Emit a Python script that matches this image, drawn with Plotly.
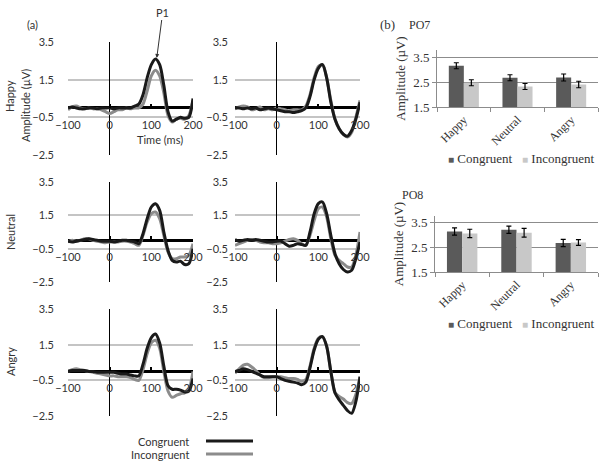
import plotly.graph_objects as go

W, H = 601, 465

# ERP waveforms, sampled every 10 ms from -100 to 200 ms (amplitudes in µV)
times = list(range(-100, 201, 10))

happy_left_cong = [0.0, 0.05, 0.0, -0.05, -0.05, 0.0, 0.0, -0.05, 0.0, 0.0, 0.0, -0.05, 0.0, 0.0, 0.0, 0.0,
                   0.1, 0.2, 0.7, 1.6, 2.3, 2.6, 2.3, 1.2, -0.2, -0.7, -0.6, -0.5, -0.55, -0.5, 0.5]
happy_left_incong = [-0.1, 0.05, 0.1, 0.0, -0.05, 0.0, -0.05, -0.05, -0.1, -0.2, -0.3, -0.2, -0.1, -0.1, 0.0, -0.05,
                     0.0, 0.0, 0.2, 0.9, 1.7, 2.0, 1.7, 0.8, -0.4, -0.75, -0.6, -0.55, -0.6, -0.4, 0.4]
happy_right_cong = [0.0, 0.0, -0.05, 0.0, -0.05, 0.0, -0.1, -0.05, 0.0, -0.05, -0.1, -0.15, -0.2, -0.2, -0.25, -0.2,
                    -0.15, 0.0, 0.6, 1.5, 2.1, 2.3, 1.6, 0.3, -0.6, -1.1, -1.4, -1.5, -1.2, -0.6, 0.3]
happy_right_incong = [-0.05, 0.05, 0.1, 0.05, -0.1, -0.05, 0.05, -0.1, -0.05, -0.1, 0.0, -0.05, -0.1, -0.15, -0.1, -0.1,
                      -0.1, 0.1, 0.7, 1.6, 2.2, 2.3, 1.6, 0.4, -0.6, -1.1, -1.4, -1.55, -1.3, -0.5, 0.4]
neutral_left_cong = [-0.05, -0.1, -0.05, 0.0, 0.05, 0.1, 0.05, 0.0, -0.05, -0.05, -0.05, -0.1, -0.05, 0.0, 0.0, -0.05,
                     -0.1, -0.2, 0.4, 1.3, 2.0, 2.2, 1.8, 0.5, -0.6, -1.2, -1.3, -1.25, -1.45, -1.4, -0.5]
neutral_left_incong = [-0.1, 0.0, -0.05, 0.0, 0.1, 0.1, 0.0, -0.05, -0.1, -0.15, -0.1, -0.1, -0.1, -0.05, -0.05, -0.1,
                       -0.2, -0.3, 0.3, 1.1, 1.6, 1.7, 1.3, 0.3, -0.7, -1.1, -1.1, -1.0, -1.0, -0.9, -0.2]
neutral_right_cong = [0.05, -0.05, 0.0, 0.05, 0.0, 0.05, 0.0, -0.05, -0.1, -0.1, -0.05, -0.05, -0.2, -0.35, -0.3, -0.2,
                      -0.25, -0.3, 0.5, 1.6, 2.2, 2.3, 1.6, 0.3, -0.8, -1.4, -1.75, -1.9, -1.8, -1.1, -0.1]
neutral_right_incong = [-0.3, -0.2, -0.1, 0.0, 0.05, 0.0, -0.1, -0.15, -0.15, -0.2, -0.2, -0.15, -0.05, 0.05, 0.1, 0.0,
                        -0.2, -0.3, 0.3, 1.2, 1.9, 2.0, 1.4, 0.1, -0.9, -1.2, -1.4, -1.6, -1.6, -0.9, 0.5]
angry_left_cong = [0.0, 0.05, 0.05, 0.05, 0.05, 0.0, 0.0, -0.05, -0.05, -0.05, -0.05, -0.05, -0.1, -0.15, -0.15, -0.2,
                   -0.25, -0.25, 0.4, 1.3, 1.9, 2.1, 1.6, 0.3, -0.8, -1.0, -1.0, -1.05, -1.15, -1.1, -0.4]
angry_left_incong = [0.0, 0.1, 0.15, 0.1, 0.05, 0.0, -0.05, -0.1, -0.15, -0.2, -0.25, -0.25, -0.3, -0.3, -0.3, -0.35,
                     -0.45, -0.5, 0.1, 1.0, 1.6, 1.75, 1.3, 0.0, -1.1, -1.45, -1.35, -1.25, -1.2, -1.0, 0.0]
angry_right_cong = [0.0, 0.05, 0.15, 0.1, 0.0, -0.1, -0.2, -0.3, -0.3, -0.3, -0.3, -0.4, -0.5, -0.55, -0.6, -0.65,
                    -0.75, -0.6, 0.2, 1.2, 1.8, 1.95, 1.4, 0.0, -1.2, -1.6, -1.9, -2.2, -2.35, -1.7, -0.3]
angry_right_incong = [-0.1, 0.15, 0.35, 0.4, 0.25, 0.05, -0.2, -0.35, -0.35, -0.3, -0.3, -0.3, -0.35, -0.4, -0.4, -0.45,
                      -0.55, -0.45, 0.3, 1.3, 1.85, 1.95, 1.4, 0.0, -1.2, -1.4, -1.55, -1.75, -1.8, -1.3, -0.3]

erp_xticks = [-100, 0, 100, 200]
erp_yticks = [-2.5, -0.5, 1.5, 3.5]
row_names = ["Happy", "Neutral", "Angry"]

# mean amplitudes of P1 with standard errors
bar_conditions = ["Happy", "Neutral", "Angry"]
po7_cong = [3.15, 2.67, 2.68]
po7_cong_err = [0.12, 0.12, 0.14]
po7_incong = [2.47, 2.32, 2.40]
po7_incong_err = [0.12, 0.12, 0.13]
po8_cong = [3.15, 3.22, 2.68]
po8_cong_err = [0.15, 0.15, 0.15]
po8_incong = [3.07, 3.10, 2.70]
po8_incong_err = [0.17, 0.18, 0.12]
bar_yticks = [1.5, 2.5, 3.5]

BLACK = "#1a1a1a"
GRAY = "#8c8c8c"
DARK_BAR = "#5a5a5a"
LIGHT_BAR = "#c8c8c8"
SANS = "Lato"
SERIF = "Liberation Serif"


def fx(px):
    return px / W


def fy(py):
    return 1 - py / H


panels = [
    (happy_left_cong, happy_left_incong),
    (happy_right_cong, happy_right_incong),
    (neutral_left_cong, neutral_left_incong),
    (neutral_right_cong, neutral_right_incong),
    (angry_left_cong, angry_left_incong),
    (angry_right_cong, angry_right_incong),
]
col_px = [(68, 193), (235, 360)]
row_px = [(42, 155), (182, 282), (309, 416)]
standoff = [13, 6]

fig = go.Figure()
layout = dict(
    width=W, height=H, margin=dict(l=0, r=0, t=0, b=0, autoexpand=False),
    paper_bgcolor="white", plot_bgcolor="white", showlegend=False,
    barmode="group", bargap=0.44, bargroupgap=0,
    font=dict(family=SANS, size=11, color="#333333"),
)

for i, (cong, incong) in enumerate(panels):
    n = i + 1
    r, c = divmod(i, 2)
    x0, x1 = col_px[c]
    ytop, ybot = row_px[r]
    ydom = [fy(ybot), fy(ytop)]
    zero_pos = ydom[0] + (0 - (-2.5)) / 6.0 * (ydom[1] - ydom[0])
    for vals, col in ((incong, GRAY), (cong, BLACK)):
        fig.add_trace(go.Scatter(
            x=times, y=vals, mode="lines",
            line=dict(color=col, width=3, shape="spline", smoothing=0.8),
            xaxis=f"x{n}", yaxis=f"y{n}", hoverinfo="skip",
        ))
    layout[f"xaxis{n}"] = dict(
        domain=[fx(x0), fx(x1)], range=[-100, 200], anchor="free", position=zero_pos,
        tickvals=erp_xticks, ticks="inside", ticklen=4, tickwidth=2, tickcolor="black",
        showgrid=False, showline=False, zeroline=True, zerolinecolor="black", zerolinewidth=1,
        ticklabelstandoff=9, automargin=False,
        tickfont=dict(family=SANS, size=11, color="#333333"), fixedrange=True,
    )
    layout[f"yaxis{n}"] = dict(
        domain=ydom, range=[-2.5, 3.5], anchor=f"x{n}",
        tickvals=erp_yticks, tickformat=".1f", ticks="",
        showgrid=True, gridcolor="#c4c4c4", gridwidth=1.5,
        zeroline=True, zerolinecolor="black", zerolinewidth=2.5, showline=False,
        ticklabelstandoff=standoff[c], automargin=False,
        tickfont=dict(family=SANS, size=11, color="#333333"), fixedrange=True,
    )

# bar charts PO7 / PO8
bar_specs = [
    (7, "PO7", po7_cong, po7_cong_err, po7_incong, po7_incong_err, (437, 598), (50, 107)),
    (8, "PO8", po8_cong, po8_cong_err, po8_incong, po8_incong_err, (435, 598), (216, 272)),
]
for n, name, cv, ce, iv, ie, (bx0, bx1), (by0, by1) in bar_specs:
    for vals, errs, col in ((cv, ce, DARK_BAR), (iv, ie, LIGHT_BAR)):
        fig.add_trace(go.Bar(
            x=bar_conditions, y=vals, marker=dict(color=col, line=dict(width=0)),
            error_y=dict(type="data", array=errs, color="black", thickness=1.2, width=2.5),
            xaxis=f"x{n}", yaxis=f"y{n}", base=0, hoverinfo="skip",
        ))
    layout[f"xaxis{n}"] = dict(
        domain=[fx(bx0), fx(bx1)], anchor=f"y{n}", type="category",
        showline=True, linecolor="#8c8c8c", linewidth=1, showgrid=False,
        ticks="outside", tickson="boundaries", ticklen=4, tickcolor="#8c8c8c",
        tickangle=-45, automargin=False,
        tickfont=dict(family=SERIF, size=12, color="#333333"), fixedrange=True,
    )
    layout[f"yaxis{n}"] = dict(
        domain=[fy(by1), fy(by0)], anchor=f"x{n}", range=[1.5, 3.78],
        tickvals=bar_yticks, tickformat=".1f",
        showline=True, linecolor="#8c8c8c", linewidth=1,
        showgrid=True, gridcolor="#8c8c8c", gridwidth=1, zeroline=False,
        ticks="outside", ticklen=4, tickcolor="#8c8c8c", automargin=False,
        tickfont=dict(family=SERIF, size=13, color="#333333"),
        title=dict(text="Amplitude (µV)", font=dict(family=SERIF, size=13, color="#333333"), standoff=4),
        fixedrange=True,
    )

fig.update_layout(**layout)

ann = []


def text(x, y, s, size=11, family=SANS, angle=0, xanchor="center"):
    ann.append(dict(x=fx(x), y=fy(y), xref="paper", yref="paper", text=s, showarrow=False,
                    textangle=angle, xanchor=xanchor, yanchor="middle",
                    font=dict(family=family, size=size, color="#333333")))


text(32, 25, "(a)")
text(10, 96, row_names[0], angle=-90)
text(25, 106, "Amplitude (µV)", angle=-90)
text(10, 232, row_names[1], angle=-90)
text(10, 362, row_names[2], angle=-90)
text(160, 140, "Time (ms)")
text(191, 441, "Congruent", xanchor="right")
text(191, 454, "Incongruent", xanchor="right")

ann.append(dict(x=113, y=2.65, xref="x1", yref="y1", text="P1", showarrow=True,
                ax=6, ay=-46, arrowhead=2, arrowsize=0.8, arrowwidth=1, arrowcolor="#333333",
                font=dict(family=SANS, size=11, color="#333333")))

text(387, 25, "(b)", size=13, family=SERIF)
text(419, 25, "PO7", size=12, family=SERIF)
text(413, 195, "PO8", size=12, family=SERIF)

for ly in (158, 323):
    text(446, ly, f"<span style='color:{DARK_BAR};font-size:10px'>■</span> Congruent",
         size=13, family=SERIF, xanchor="left")
    text(520, ly, f"<span style='color:{LIGHT_BAR};font-size:10px'>■</span> Incongruent",
         size=13, family=SERIF, xanchor="left")

fig.update_layout(annotations=ann)

fig.add_shape(type="line", xref="paper", yref="paper", x0=fx(206), x1=fx(253), y0=fy(441), y1=fy(441),
              line=dict(color=BLACK, width=3))
fig.add_shape(type="line", xref="paper", yref="paper", x0=fx(206), x1=fx(253), y0=fy(454), y1=fy(454),
              line=dict(color=GRAY, width=3))

# the page body has a default 8px margin; drop it so the figure sits at the window's corner
fig.write_html("out.html", config={"displayModeBar": False},
               post_script="document.body.style.margin='0';")
